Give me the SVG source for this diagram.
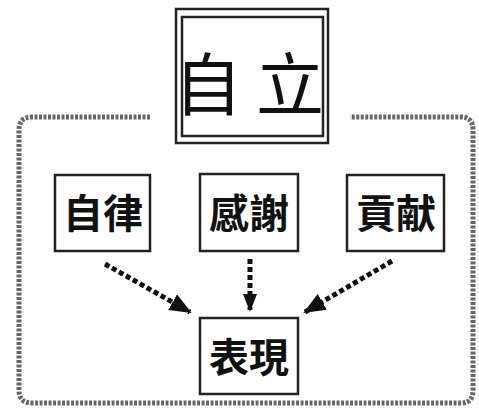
<svg xmlns="http://www.w3.org/2000/svg" width="479" height="409" viewBox="0 0 479 409">
<style>
.box{fill:#fff;stroke:#222;stroke-width:2.5}
.lbl{font-family:"Noto Sans CJK TC","Noto Sans CJK JP",sans-serif;font-size:40px;font-weight:700;fill:#111;text-anchor:middle}
.title{font-family:"Noto Sans CJK TC","Noto Sans CJK JP",sans-serif;font-size:68px;font-weight:400;fill:#111;text-anchor:middle}
.frame{fill:none;stroke:#666;stroke-width:5;stroke-dasharray:3 1.5}
.conn{fill:none;stroke:#111;stroke-width:5;stroke-dasharray:5 3}
</style>
<defs>
<marker id="ah" markerWidth="24" markerHeight="20" refX="20" refY="9" orient="auto" markerUnits="userSpaceOnUse">
<path d="M0,0 L22,9 L0,18 Z" fill="#111"/>
</marker>
<marker id="ahs" markerWidth="20" markerHeight="16" refX="16" refY="7" orient="auto" markerUnits="userSpaceOnUse">
<path d="M0,0 L18,7 L0,14 Z" fill="#111"/>
</marker>
</defs>
<rect width="479" height="409" fill="#fff"/>
<g id="frame">
<path class="frame" d="M150,117 L32,117 Q19,117 19,130 L19,390 Q19,403 32,403 L461,403 Q473,403 473,390 L473,130 Q473,117 461,117 L350,117"/>
</g>
<g id="title">
<rect x="176" y="9" width="152" height="134" fill="#fff" stroke="#222" stroke-width="2.5"/>
<rect x="182" y="17" width="141" height="119" fill="none" stroke="#222" stroke-width="2.5"/>
<text class="title" x="256" y="110" letter-spacing="14">自立</text>
</g>
<g id="n-jiritsu">
<rect class="box" x="55" y="175" width="95" height="76"/>
<text class="lbl" x="103" y="228">自律</text>
</g>
<g id="n-kansha">
<rect class="box" x="200" y="174" width="98" height="77"/>
<text class="lbl" x="249" y="228">感謝</text>
</g>
<g id="n-kouken">
<rect class="box" x="347" y="175" width="97" height="76"/>
<text class="lbl" x="396" y="228">貢献</text>
</g>
<g id="n-hyougen">
<rect class="box" x="200" y="318" width="98" height="76"/>
<text class="lbl" x="249" y="372">表現</text>
</g>
<g id="connectors">
<path class="conn" d="M105,264 L190,312" marker-end="url(#ah)"/>
<path class="conn" d="M250,259 L250,310" stroke-width="3" marker-end="url(#ahs)"/>
<path class="conn" d="M392,261 L305,312" marker-end="url(#ah)"/>
</g>
</svg>
